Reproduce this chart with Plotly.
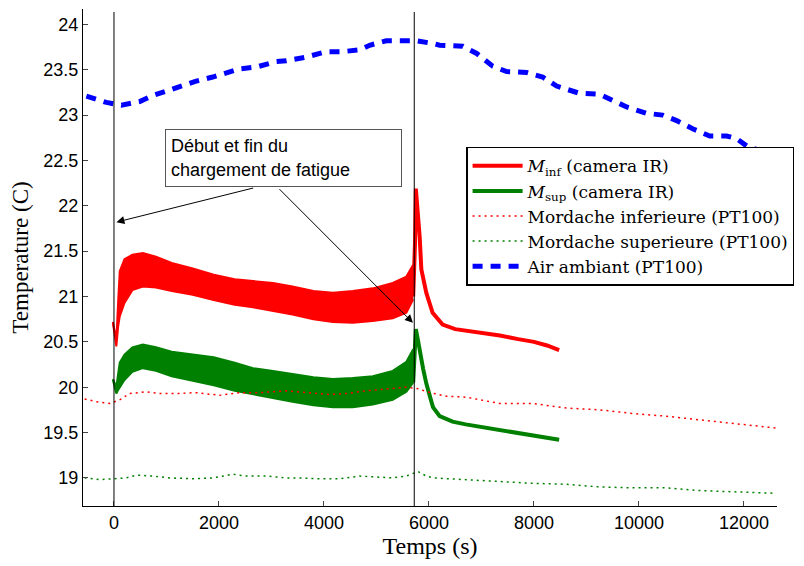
import plotly.graph_objects as go

# ---------------- data ----------------
# IR camera, during fatigue loading: envelope of the oscillating signal
band_t = [-20, 45, 80, 110, 200, 350, 550, 800, 1100, 1500, 1900, 2300, 2650, 3030,
          3400, 3800, 4170, 4550, 4930, 5310, 5570, 5700]
minf_lo = [20.71, 20.45, 20.67, 20.78, 20.93, 21.07, 21.11, 21.10, 21.06, 21.02, 20.96,
           20.91, 20.88, 20.84, 20.80, 20.75, 20.72, 20.71, 20.73, 20.76, 20.82, 20.97]
minf_hi = [20.72, 20.52, 20.95, 21.28, 21.41, 21.46, 21.48, 21.44, 21.37, 21.31, 21.24,
           21.19, 21.17, 21.15, 21.11, 21.06, 21.04, 21.06, 21.09, 21.15, 21.22, 21.35]
msup_lo = [20.08, 19.93, 19.97, 20.00, 20.08, 20.17, 20.21, 20.18, 20.12, 20.07, 20.02,
           19.96, 19.92, 19.88, 19.84, 19.80, 19.78, 19.78, 19.81, 19.86, 19.95, 20.05]
msup_hi = [20.09, 20.00, 20.15, 20.27, 20.36, 20.44, 20.47, 20.44, 20.39, 20.36, 20.33,
           20.27, 20.21, 20.18, 20.15, 20.11, 20.09, 20.10, 20.12, 20.18, 20.28, 20.42]

# IR camera, end of loading (peak) and cooling
minf_tail_t = [5700, 5735, 5750, 5790, 5823, 5855, 5950, 6070, 6260, 6500, 6750, 7000,
               7350, 7700, 8000, 8250, 8480]
minf_tail = [21.00, 21.60, 22.19, 21.95, 21.66, 21.30, 21.04, 20.82, 20.69, 20.64, 20.62,
             20.60, 20.57, 20.53, 20.50, 20.46, 20.41]
msup_tail_t = [5700, 5735, 5750, 5790, 5823, 5890, 5950, 6076, 6204, 6450, 6700, 7000,
               7350, 7700, 8000, 8250, 8480]
msup_tail = [20.05, 20.45, 20.64, 20.52, 20.40, 20.20, 20.04, 19.78, 19.68, 19.62, 19.59,
             19.56, 19.53, 19.50, 19.47, 19.44, 19.42]

# PT100 sensors
pt_inf_t = [-558, -335, -82, 109, 299, 617, 870, 1189, 1570, 2014, 2395, 2775, 3284, 3728,
            4109, 4427, 4808, 5189, 5570, 5823, 5950, 6331, 6712, 7347, 7981, 8617, 9251,
            9886, 10522, 11156, 11790, 12600]
pt_inf = [19.87, 19.84, 19.82, 19.86, 19.93, 19.95, 19.93, 19.93, 19.94, 19.91, 19.94, 19.94,
          19.96, 19.94, 19.92, 19.93, 19.96, 19.98, 20.00, 19.98, 19.95, 19.90, 19.89, 19.82,
          19.82, 19.77, 19.75, 19.71, 19.68, 19.64, 19.60, 19.55]
pt_sup_t = [-558, -272, -20, 236, 427, 743, 1061, 1505, 1886, 2267, 2522, 2903, 3284, 3537,
            3918, 4299, 4680, 4998, 5314, 5570, 5790, 5950, 6076, 6712, 7347, 7981, 8617,
            9251, 9886, 10522, 11156, 11790, 12600]
pt_sup = [19.00, 18.98, 18.99, 19.00, 19.03, 19.02, 19.00, 18.99, 19.00, 19.04, 19.02, 19.02,
          19.00, 19.00, 18.99, 18.99, 19.02, 19.01, 19.00, 19.02, 19.07, 19.02, 19.00, 18.98,
          18.96, 18.94, 18.93, 18.90, 18.89, 18.89, 18.86, 18.85, 18.83]

air_t = [-526, -145, 141, 490, 712, 903, 1189, 1537, 1880, 2166, 2394, 2712, 3093, 3284,
         3665, 4046, 4362, 4680, 4870, 5189, 5442, 5760, 6076, 6204, 6642, 6909, 7213, 7480,
         7861, 8166, 8432, 8870, 9251, 9766, 10147, 10451, 10718, 11023, 11347, 11670,
         11861, 12052, 12600]
air = [23.21, 23.14, 23.11, 23.15, 23.21, 23.25, 23.31, 23.37, 23.42, 23.47, 23.51, 23.53,
       23.59, 23.60, 23.64, 23.70, 23.70, 23.72, 23.77, 23.82, 23.82, 23.82, 23.79, 23.77,
       23.76, 23.68, 23.54, 23.48, 23.47, 23.42, 23.32, 23.24, 23.23, 23.09, 23.02, 23.00,
       22.94, 22.85, 22.77, 22.77, 22.74, 22.66, 22.55]

load_marks = [0, 5720]          # start / end of fatigue loading
xticks = [0, 2000, 4000, 6000, 8000, 10000, 12000]
xtick_text = ["0", "2000", "4000", "6000", "8000", "10000", "12000"]
yticks = [19, 19.5, 20, 20.5, 21, 21.5, 22, 22.5, 23, 23.5, 24]
ytick_text = ["19", "19.5", "20", "20.5", "21", "21.5", "22", "22.5", "23", "23.5", "24"]

RED = "#ff0000"
GREEN = "#008000"
BLUE = "#0000ff"

fig = go.Figure()

# bands (IR during loading)
for lo, hi, col in [(minf_lo, minf_hi, RED), (msup_lo, msup_hi, GREEN)]:
    fig.add_trace(go.Scatter(x=band_t, y=lo, mode="lines", line=dict(color=col, width=2),
                             showlegend=False, hoverinfo="skip"))
    fig.add_trace(go.Scatter(x=band_t, y=hi, mode="lines", line=dict(color=col, width=2),
                             fill="tonexty", fillcolor=col, showlegend=False, hoverinfo="skip"))

fig.add_trace(go.Scatter(x=minf_tail_t, y=minf_tail, mode="lines",
                         line=dict(color=RED, width=4),
                         name="<i>M</i><sub>inf</sub> (camera IR)", legendrank=1))
fig.add_trace(go.Scatter(x=msup_tail_t, y=msup_tail, mode="lines",
                         line=dict(color=GREEN, width=4),
                         name="<i>M</i><sub>sup</sub> (camera IR)", legendrank=2))
fig.add_trace(go.Scatter(x=pt_inf_t, y=pt_inf, mode="lines",
                         line=dict(color=RED, width=1.5, dash="2px,4px"),
                         name="Mordache inferieure (PT100)", legendrank=3))
fig.add_trace(go.Scatter(x=pt_sup_t, y=pt_sup, mode="lines",
                         line=dict(color=GREEN, width=1.5, dash="2px,4px"),
                         name="Mordache superieure (PT100)", legendrank=4))
fig.add_trace(go.Scatter(x=air_t, y=air, mode="lines",
                         line=dict(color=BLUE, width=5, dash="10px,8px"),
                         name="Air ambiant (PT100)", legendrank=5))

for xm in load_marks:
    fig.add_shape(type="line", x0=xm, x1=xm, xref="x", y0=0, y1=0.994, yref="paper",
                  line=dict(color="black", width=1))

# annotation box + arrows
fig.add_annotation(x=979, y=22.85, xref="x", yref="y", xanchor="left", yanchor="top",
                   text="Début et fin du<br>chargement de fatigue", showarrow=False,
                   align="left", width=225, height=46, borderpad=5,
                   bordercolor="#555555", borderwidth=1, bgcolor="white",
                   font=dict(family="Liberation Sans, Arial, sans-serif", size=18, color="black"))
for hx, hy, tx, ty in [(46, 21.82, 2680, 22.2), (5695, 20.71, 3124, 22.2)]:
    fig.add_annotation(x=hx, y=hy, ax=tx, ay=ty, xref="x", yref="y", axref="x", ayref="y",
                       text="", showarrow=True, arrowhead=2, arrowsize=1.6, arrowwidth=1,
                       arrowcolor="black", standoff=0)

serif = "Liberation Serif, Times New Roman, serif"
sans = "Liberation Sans, Arial, sans-serif"

fig.update_layout(
    width=804, height=566,
    margin=dict(l=75, r=35, t=1, b=68),
    paper_bgcolor="white", plot_bgcolor="white",
    showlegend=True,
    legend=dict(x=0.552, y=0.7228, xanchor="left", yanchor="top", traceorder="normal",
                bordercolor="black", borderwidth=1.5, bgcolor="white",
                font=dict(family="DejaVu Serif, serif", size=17, color="black"),
                tracegroupgap=0, itemwidth=50),
    xaxis=dict(range=[-590, 12630], tickvals=xticks, ticktext=xtick_text, ticks="inside",
               ticklen=5, automargin=False,
               showline=True, linecolor="black", linewidth=1, showgrid=False, zeroline=False,
               tickfont=dict(family=sans, size=18, color="black"),
               title=dict(text="Temps (s)", font=dict(family=serif, size=24, color="black"),
                          standoff=2)),
    yaxis=dict(range=[18.69, 24.17], tickvals=yticks, ticktext=ytick_text, ticks="inside",
               ticklen=5, showline=True, linecolor="black", linewidth=1, showgrid=False,
               zeroline=False, automargin=False,
               tickfont=dict(family=sans, size=18, color="black"),
               title=dict(text="Temperature (C)", font=dict(family=serif, size=23, color="black"),
                          standoff=8)),
)

fig.write_html("out.html")
